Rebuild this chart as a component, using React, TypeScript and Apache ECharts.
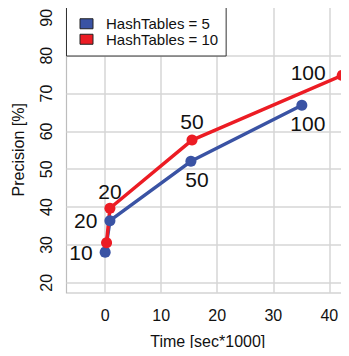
import React, { useEffect, useRef } from "react";
import * as echarts from "echarts";

const tableLabels = ["10", "20", "50", "100"];
const time5 = [0.0, 0.85, 15.3, 35.1];
const prec5 = [28.1, 36.4, 52.1, 66.9];
const time10 = [0.25, 0.85, 15.5, 42.3];
const prec10 = [30.6, 39.7, 57.7, 74.8];
const xTicks = [0, 10, 20, 30, 40];
const yGridTicks = [20, 30, 40, 50, 60, 70, 80];
const yLabelTicks = [20, 30, 40, 50, 60, 70, 80, 90];

const BLUE = "#3a53a4";
const RED = "#ec1c24";

const labelStyle5: any[] = [
  { show: true, position: "left", distance: 7 },
  { show: true, position: "left", distance: 7 },
  { show: true, position: "bottom", distance: 2, offset: [6, 0] },
  { show: true, position: "bottom", distance: 2, offset: [6, 0] },
];
const labelStyle10: any[] = [
  { show: false },
  { show: true, position: "top", distance: 1 },
  { show: true, position: "top", distance: 3 },
  { show: true, position: "left", distance: 11, offset: [0, -3] },
];

export default function App() {
  const ref = useRef<HTMLDivElement>(null);
  useEffect(() => {
    const chart = echarts.init(ref.current!, undefined, { renderer: "svg" });
    const font = "Liberation Sans, Arial, sans-serif";
    const mk = (xs: number[], ys: number[], styles: any[]) =>
      xs.map((x, i) => ({
        value: [x, ys[i]],
        label: { ...styles[i], formatter: tableLabels[i] },
      }));
    chart.setOption({
      animation: false,
      textStyle: { fontFamily: font },
      grid: {
        left: 66.5,
        top: 6.5,
        width: 292.5,
        height: 286.5,
        outerBoundsMode: "none",
        containLabel: false,
        show: true,
        borderColor: "#bdbdbd",
        borderWidth: 1.2,
      },
      legend: {
        orient: "vertical",
        left: 66.5,
        top: 6,
        backgroundColor: "#fff",
        borderColor: "#333",
        borderWidth: 1,
        padding: [10, 8, 9, 13],
        itemWidth: 13,
        itemHeight: 10,
        itemGap: 0,
        icon: "rect",
        itemStyle: { borderColor: "#222", borderWidth: 1 },
        textStyle: {
          fontFamily: font,
          fontSize: 15,
          color: "#111",
          lineHeight: 15.5,
          padding: [0, 0, 0, 8],
        },
        data: ["HashTables = 5", "HashTables = 10"],
        z: 10,
      },
      xAxis: {
        type: "value",
        min: -6.9,
        max: 45.3,
        name: "Time [sec*1000]",
        nameLocation: "middle",
        nameGap: 40,
        nameTextStyle: {
          fontSize: 16,
          color: "#111",
          fontFamily: font,
          padding: [0, 10, 0, 0],
        },
        axisLine: { show: false },
        axisTick: { show: false, customValues: xTicks },
        axisLabel: {
          customValues: xTicks,
          fontSize: 16,
          color: "#111",
          margin: 14,
        },
        splitLine: { show: true, lineStyle: { color: "#d6d6d6", width: 1.5 } },
      },
      yAxis: {
        type: "value",
        min: 17.3,
        max: 93.0,
        name: "Precision [%]",
        nameLocation: "middle",
        nameGap: 40,
        nameTextStyle: { fontSize: 16, color: "#111", fontFamily: font },
        axisLine: { show: false },
        axisTick: { show: false, customValues: yGridTicks },
        axisLabel: {
          customValues: yLabelTicks,
          fontSize: 16,
          color: "#111",
          rotate: 90,
          margin: 12,
        },
        splitLine: { show: true, lineStyle: { color: "#d6d6d6", width: 1.5 } },
      },
      series: [
        {
          name: "HashTables = 5",
          type: "line",
          data: mk(time5, prec5, labelStyle5),
          symbol: "circle",
          symbolSize: 11,
          color: BLUE,
          lineStyle: { width: 3.5, color: BLUE },
          itemStyle: { color: BLUE },
          label: { fontSize: 21, color: "#111", fontFamily: font },
        },
        {
          name: "HashTables = 10",
          type: "line",
          data: mk(time10, prec10, labelStyle10),
          symbol: "circle",
          symbolSize: 11,
          color: RED,
          lineStyle: { width: 3.5, color: RED },
          itemStyle: { color: RED },
          label: { fontSize: 21, color: "#111", fontFamily: font },
        },
      ],
    });
    return () => chart.dispose();
  }, []);
  return (
    <div style={{ margin: -8, width: 349, height: 356, overflow: "hidden" }}>
      <div ref={ref} style={{ width: 349, height: 356 }} />
    </div>
  );
}
